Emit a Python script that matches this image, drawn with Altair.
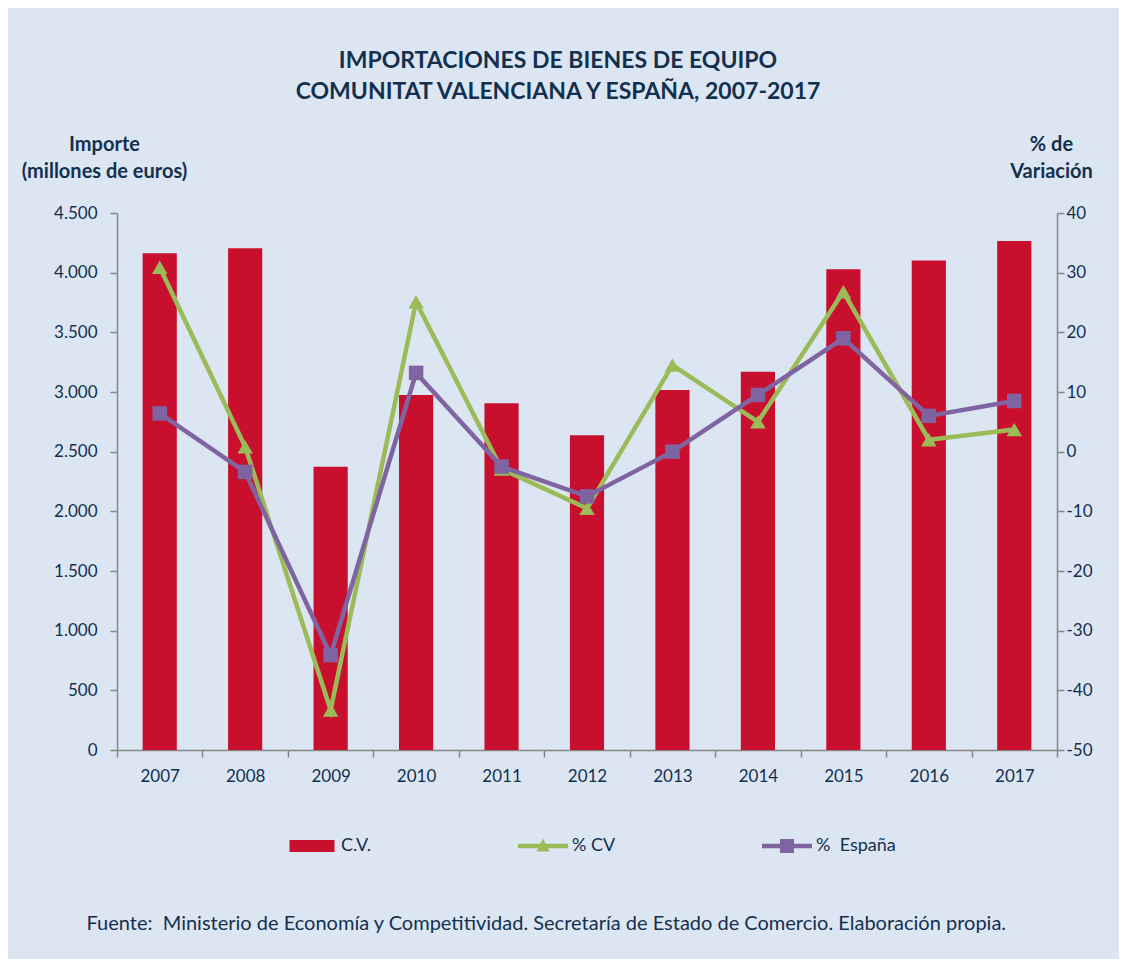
import altair as alt
import pandas as pd

# ---------------- data ----------------
years = ["2007", "2008", "2009", "2010", "2011", "2012",
         "2013", "2014", "2015", "2016", "2017"]
importe_cv = [4162, 4204, 2374, 2975, 2905, 2637, 3017, 3170, 4028, 4103, 4265]
var_cv = [30.9, 0.8, -43.3, 25.1, -2.9, -9.5, 14.5, 5.0, 26.8, 2.0, 3.7]
var_esp = [6.4, -3.4, -34.1, 13.2, -2.5, -7.5, 0.0, 9.5, 19.0, 6.0, 8.5]

left_ticks = [0, 500, 1000, 1500, 2000, 2500, 3000, 3500, 4000, 4500]
right_ticks = [-50, -40, -30, -20, -10, 0, 10, 20, 30, 40]
legend_labels = ["C.V.", "% CV", "%\u00a0 España"]

title_lines = ["IMPORTACIONES DE BIENES DE EQUIPO",
               "COMUNITAT VALENCIANA Y ESPAÑA, 2007-2017"]
left_title = ["Importe", "(millones de euros)"]
right_title = ["% de", "Variación"]
source = ("Fuente:\u00a0 Ministerio de Economía y Competitividad. "
          "Secretaría de Estado de Comercio. Elaboración propia.")

# ---------------- style ----------------
FONT = "Lato"
NAVY = "#14304f"
GRAY = "#868686"
RED = "#c8102e"
GREEN = "#9bbb59"
PURPLE = "#8064a2"
BG = "#dce6f2"
PLOT_BG = "#f2f2f2"

W, H = 940, 537
PAD_L, PAD_T = 109, 205
PAD_R = 1111 - PAD_L - W
PAD_B = 951 - PAD_T - H

bars_df = pd.DataFrame({"year": years, "importe": importe_cv})
cv_df = pd.DataFrame({"year": years, "pct": var_cv})
esp_df = pd.DataFrame({"year": years, "pct": var_esp})
leg_df = pd.DataFrame({"serie": legend_labels})

x_scale = alt.Scale(domain=years, paddingInner=0, paddingOuter=0)

x_axis = alt.Axis(
    tickBand="extent", labelAngle=0, labelFont=FONT, labelFontSize=17,
    labelColor=NAVY, labelPadding=11, tickSize=7, tickColor=GRAY,
    domainColor=GRAY, domainWidth=1.5, tickWidth=1.5, grid=False,
    title=source, titleFont=FONT, titleFontSize=20, titleFontWeight="normal",
    titleColor=NAVY, titleAlign="left", titleBaseline="middle",
    titleX=86 - 117, titleY=923 - 750,
)

bars = alt.Chart(bars_df).mark_bar(
    color=RED, width=alt.RelativeBandSize(0.4)
).encode(
    x=alt.X("year:N", scale=x_scale, axis=x_axis, sort=years),
    y=alt.Y(
        "importe:Q",
        scale=alt.Scale(domain=[0, 4500], nice=False, zero=True),
        axis=alt.Axis(
            orient="left", values=left_ticks,
            labelExpr="replace(format(datum.value, ','), ',', '.')",
            labelFont=FONT, labelFontSize=17, labelColor=NAVY,
            labelPadding=13, tickSize=7, tickColor=GRAY, tickWidth=1.5,
            domainColor=GRAY, domainWidth=1.5, grid=False,
            title=left_title, titleAngle=0, titleFont=FONT,
            titleFontSize=20, titleFontWeight="bold", titleColor=NAVY,
            titleAlign="center", titleBaseline="alphabetic",
            titleX=104 - 117, titleY=150 - 213, titleLineHeight=27,
        ),
    ),
)

y_right = alt.Y(
    "pct:Q",
    scale=alt.Scale(domain=[-50, 40], nice=False, zero=False),
    axis=alt.Axis(
        orient="right", values=right_ticks,
        labelExpr="toString(datum.value)",
        labelFont=FONT, labelFontSize=17, labelColor=NAVY,
        labelPadding=2, tickSize=7, tickColor=GRAY, tickWidth=1.5,
        domainColor=GRAY, domainWidth=1.5, grid=False,
        title=right_title, titleAngle=0, titleFont=FONT,
        titleFontSize=20, titleFontWeight="bold", titleColor=NAVY,
        titleAlign="center", titleBaseline="alphabetic",
        titleX=-6, titleY=150 - 213, titleLineHeight=27,
    ),
)
y_right_plain = alt.Y("pct:Q", scale=alt.Scale(domain=[-50, 40], nice=False, zero=False))
x_plain = alt.X("year:N", sort=years)

cv_line = alt.Chart(cv_df).mark_line(color=GREEN, strokeWidth=4.5).encode(
    x=x_plain, y=y_right)
cv_pts = alt.Chart(cv_df).mark_point(
    shape="triangle-up", filled=True, size=240, color=GREEN, opacity=1
).encode(x=x_plain, y=y_right_plain)
esp_line = alt.Chart(esp_df).mark_line(color=PURPLE, strokeWidth=4.5).encode(
    x=x_plain, y=y_right_plain)
esp_pts = alt.Chart(esp_df).mark_point(
    shape="square", filled=True, size=210, color=PURPLE, opacity=1
).encode(x=x_plain, y=y_right_plain)

# legend symbols (paths in [-1, 1] units, scaled by sqrt(symbolSize)/2)
p_rect = "M-0.9,-0.24H0.9V0.24H-0.9Z"
p_tri = "M-1,-0.09H1V0.09H-1Z M-0.26,0.22L0,-0.3L0.26,0.22Z"
p_sq = "M-1,-0.09H1V0.09H-1Z M-0.28,-0.28H0.28V0.28H-0.28Z"

leg = alt.Legend(
    orient="none", legendX=170, legendY=608, direction="horizontal",
    title=None, symbolSize=2500, symbolStrokeWidth=0, symbolOpacity=1,
    labelFont=FONT, labelFontSize=18, labelColor=NAVY, labelOffset=4,
    columnPadding=146,
)
legend_layer = alt.Chart(leg_df).mark_point(filled=True, opacity=1).encode(
    fill=alt.Fill("serie:N", scale=alt.Scale(domain=legend_labels,
                  range=[RED, GREEN, PURPLE]), legend=leg),
    shape=alt.Shape("serie:N", scale=alt.Scale(domain=legend_labels,
                    range=[p_rect, p_tri, p_sq]), legend=leg),
).transform_filter("false")

lines = alt.layer(cv_line, cv_pts, esp_line, esp_pts, legend_layer)

chart = alt.layer(bars, lines).resolve_scale(y="independent").properties(
    width=W, height=H,
    padding={"left": PAD_L, "top": PAD_T, "right": PAD_R, "bottom": PAD_B},
    autosize=alt.AutoSizeParams(type="none"),
    background=BG,
    title=alt.TitleParams(
        text=title_lines, font=FONT, fontSize=23, fontWeight="bold",
        color=NAVY, anchor="middle", frame="group", dx=-29,
        lineHeight=31, offset=30,
    ),
).configure_view(stroke=None, fill=PLOT_BG)

chart.save("out.html", embed_options={"renderer": "svg", "actions": False})
